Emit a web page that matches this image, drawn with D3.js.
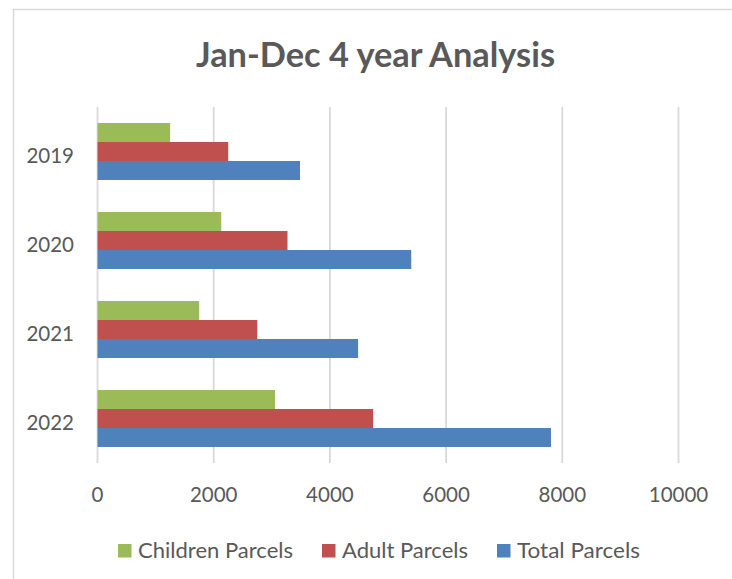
<!DOCTYPE html>
<html><head><meta charset="utf-8">
<script src="https://cdn.jsdelivr.net/npm/d3@7"></script>
<style>html,body{margin:0;padding:0;background:#fff;} svg{display:block;}</style>
</head><body>
<svg id="c" width="732" height="579"></svg>
<script>
const years = ["2019", "2020", "2021", "2022"];
const seriesNames = ["Children Parcels", "Adult Parcels", "Total Parcels"];
const children = [1250, 2130, 1750, 3055];
const adult = [2250, 3270, 2750, 4745];
const total = [3485, 5400, 4485, 7805];
const xTicks = [0, 2000, 4000, 6000, 8000, 10000];
const colors = ["#9BBB59", "#C0504D", "#4F81BD"];
const title = "Jan-Dec 4 year Analysis";

const svg = d3.select("#c");
const txt = "#595959";
const font = "Lato, 'Open Sans', sans-serif";

// chart border
svg.append("rect").attr("x", 13.5).attr("y", 9.5).attr("width", 760).attr("height", 600)
  .attr("fill", "#fff").attr("stroke", "#D9D9D9").attr("stroke-width", 1.5);

const plot = {left: 97.5, right: 678.5, top: 107, bottom: 463};
const x = d3.scaleLinear().domain([0, 10000]).range([plot.left, plot.right]);
const y = d3.scaleBand().domain(years).range([plot.top, plot.bottom]).paddingInner(0.36).paddingOuter(0.18);
const ySub = d3.scaleBand().domain(seriesNames).range([0, y.bandwidth()]);

// gridlines
svg.append("g").selectAll("line").data(xTicks).join("line")
  .attr("x1", d => x(d)).attr("x2", d => x(d))
  .attr("y1", plot.top).attr("y2", plot.bottom)
  .attr("stroke", "#D9D9D9").attr("stroke-width", 1.8);

// x tick labels
svg.append("g").selectAll("text").data(xTicks).join("text")
  .attr("x", d => x(d)).attr("y", 502)
  .attr("text-anchor", "middle").attr("fill", txt)
  .attr("font-family", font).attr("font-size", 20.5)
  .text(d => d);

// y labels
svg.append("g").selectAll("text").data(years).join("text")
  .attr("x", 74).attr("y", d => y(d) + y.bandwidth() / 2 + 11)
  .attr("text-anchor", "end").attr("fill", txt)
  .attr("font-family", font).attr("font-size", 20.5)
  .text(d => d);

// bars
const seriesData = [children, adult, total];
seriesNames.forEach((name, si) => {
  svg.append("g").selectAll("rect").data(years).join("rect")
    .attr("x", x(0))
    .attr("y", d => y(d) + ySub(name))
    .attr("width", (d, i) => x(seriesData[si][i]) - x(0))
    .attr("height", ySub.bandwidth())
    .attr("fill", colors[si]);
});

// title
svg.append("text").attr("x", 375.5).attr("y", 67)
  .attr("text-anchor", "middle").attr("fill", txt)
  .attr("font-family", font).attr("font-weight", "bold").attr("font-size", 34)
  .attr("textLength", 359).attr("lengthAdjust", "spacingAndGlyphs")
  .text(title);

// legend
const legX = [118, 322, 497];
const legW = [155, 126, 123];
const leg = svg.append("g");
seriesNames.forEach((name, i) => {
  leg.append("rect").attr("x", legX[i]).attr("y", 544).attr("width", 13.5).attr("height", 13.5).attr("fill", colors[i]);
  leg.append("text").attr("x", legX[i] + 20).attr("y", 557.5)
    .attr("fill", txt).attr("font-family", font).attr("font-size", 21.5)
    .attr("textLength", legW[i]).attr("lengthAdjust", "spacingAndGlyphs")
    .text(name);
});
</script>
</body></html>
